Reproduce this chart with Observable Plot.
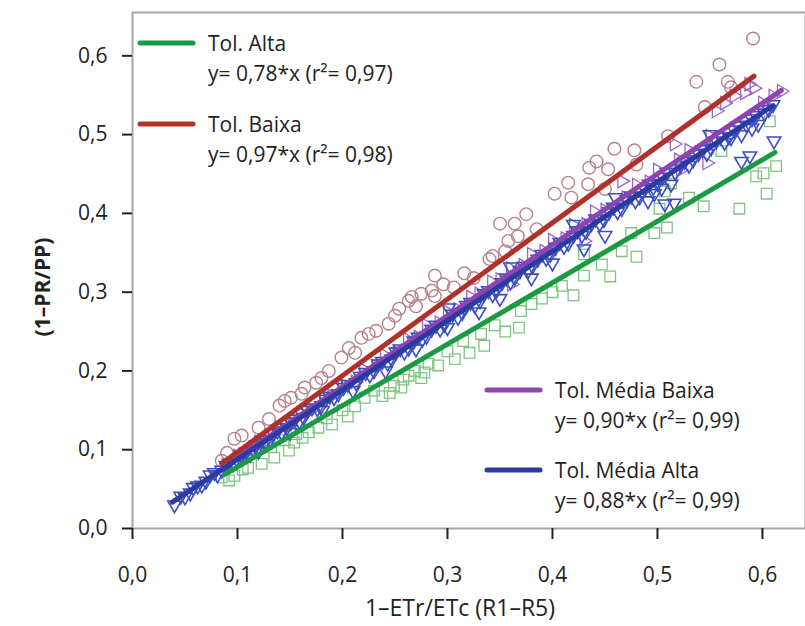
<!DOCTYPE html>
<html><head><meta charset="utf-8">
<script src="https://cdn.jsdelivr.net/npm/d3@7"></script>
<script src="https://cdn.jsdelivr.net/npm/@observablehq/plot@0.6"></script>
<style>
body{margin:0;background:#fff}
#chart{position:relative;width:805px;height:626px}
</style>
</head><body><div id="chart"></div>
<script>
// ---- Data ----
const xTicks = [0, 0.1, 0.2, 0.3, 0.4, 0.5, 0.6];
const yTicks = [0, 0.1, 0.2, 0.3, 0.4, 0.5, 0.6];
const xTitle = "1–ETr/ETc (R1–R5)";
const yTitle = "(1–PR/PP)";

const seriesNames = ["Tol. Alta", "Tol. Baixa", "Tol. Média Baixa", "Tol. Média Alta"];
const slopes = [0.78, 0.97, 0.90, 0.88];
const r2 = ["0,97", "0,98", "0,99", "0,99"];
const fitStartX = [0.088, 0.085, 0.100, 0.038];
const fitEndX = [0.612, 0.592, 0.618, 0.610];

// Tol. Baixa (open circles)
const pointsBaixa = [[0.085,0.086],[0.090,0.096],[0.097,0.114],[0.104,0.118],[0.120,0.128],[0.130,0.139],[0.140,0.156],[0.145,0.162],[0.151,0.166],[0.161,0.171],[0.164,0.179],[0.175,0.185],[0.180,0.191],[0.187,0.200],[0.199,0.217],[0.206,0.229],[0.212,0.223],[0.218,0.242],[0.225,0.247],[0.232,0.251],[0.244,0.260],[0.250,0.270],[0.254,0.279],[0.263,0.289],[0.266,0.294],[0.270,0.282],[0.275,0.298],[0.285,0.302],[0.288,0.295],[0.288,0.321],[0.296,0.310],[0.306,0.306],[0.316,0.324],[0.325,0.318],[0.340,0.342],[0.343,0.346],[0.350,0.387],[0.355,0.352],[0.358,0.365],[0.364,0.387],[0.367,0.371],[0.375,0.399],[0.385,0.380],[0.402,0.425],[0.415,0.439],[0.418,0.420],[0.434,0.437],[0.435,0.458],[0.442,0.466],[0.450,0.431],[0.453,0.456],[0.459,0.482],[0.478,0.480],[0.480,0.462],[0.510,0.498],[0.537,0.567],[0.545,0.535],[0.559,0.589],[0.567,0.567],[0.570,0.560],[0.591,0.622]];

// Tol. Alta (open squares)
const pointsAlta = [[0.085,0.065],[0.092,0.061],[0.097,0.067],[0.105,0.075],[0.110,0.077],[0.123,0.082],[0.132,0.103],[0.135,0.090],[0.145,0.112],[0.149,0.099],[0.154,0.109],[0.156,0.120],[0.162,0.115],[0.168,0.122],[0.177,0.128],[0.185,0.140],[0.190,0.132],[0.200,0.150],[0.205,0.142],[0.212,0.155],[0.221,0.166],[0.230,0.175],[0.238,0.168],[0.245,0.172],[0.249,0.181],[0.256,0.179],[0.258,0.189],[0.263,0.194],[0.269,0.200],[0.275,0.191],[0.278,0.198],[0.282,0.209],[0.291,0.207],[0.300,0.225],[0.307,0.215],[0.315,0.238],[0.321,0.223],[0.332,0.247],[0.335,0.232],[0.345,0.258],[0.355,0.250],[0.368,0.255],[0.370,0.276],[0.380,0.285],[0.390,0.292],[0.400,0.300],[0.409,0.308],[0.420,0.296],[0.430,0.321],[0.430,0.348],[0.447,0.335],[0.455,0.320],[0.466,0.352],[0.475,0.375],[0.480,0.345],[0.497,0.375],[0.502,0.406],[0.507,0.428],[0.509,0.382],[0.513,0.438],[0.530,0.420],[0.544,0.409],[0.561,0.479],[0.578,0.406],[0.594,0.447],[0.601,0.451],[0.604,0.425],[0.607,0.517],[0.613,0.460]];

// Tol. Média Baixa (open triangles)
const pointsMediaBaixa = [[0.100,0.092],[0.110,0.097],[0.120,0.110],[0.128,0.112],[0.140,0.128],[0.150,0.131],[0.160,0.146],[0.170,0.150],[0.182,0.166],[0.190,0.168],[0.200,0.183],[0.212,0.186],[0.220,0.202],[0.232,0.206],[0.240,0.220],[0.252,0.224],[0.262,0.240],[0.272,0.243],[0.280,0.258],[0.292,0.261],[0.300,0.275],[0.310,0.278],[0.322,0.294],[0.330,0.298],[0.342,0.313],[0.350,0.316],[0.360,0.330],[0.361,0.310],[0.372,0.334],[0.380,0.348],[0.392,0.352],[0.400,0.366],[0.412,0.368],[0.420,0.385],[0.430,0.365],[0.432,0.386],[0.440,0.402],[0.450,0.404],[0.466,0.441],[0.470,0.420],[0.480,0.436],[0.492,0.440],[0.500,0.455],[0.516,0.488],[0.520,0.468],[0.522,0.455],[0.530,0.480],[0.547,0.464],[0.550,0.498],[0.556,0.530],[0.564,0.540],[0.573,0.549],[0.583,0.553],[0.587,0.564],[0.592,0.559],[0.600,0.540],[0.610,0.549],[0.618,0.555]];

// Tol. Média Alta (open inverted triangles)
const pointsMediaAlta = [[0.040,0.030],[0.046,0.041],[0.050,0.040],[0.055,0.045],[0.058,0.052],[0.062,0.054],[0.066,0.055],[0.070,0.060],[0.074,0.068],[0.078,0.071],[0.081,0.068],[0.085,0.074],[0.089,0.080],[0.092,0.083],[0.096,0.082],[0.100,0.086],[0.104,0.093],[0.108,0.097],[0.112,0.094],[0.115,0.100],[0.118,0.106],[0.122,0.109],[0.120,0.098],[0.126,0.108],[0.131,0.113],[0.134,0.121],[0.138,0.124],[0.142,0.122],[0.147,0.128],[0.150,0.122],[0.151,0.135],[0.155,0.139],[0.159,0.136],[0.163,0.141],[0.167,0.150],[0.171,0.153],[0.176,0.152],[0.180,0.156],[0.181,0.150],[0.184,0.164],[0.188,0.168],[0.192,0.166],[0.196,0.171],[0.201,0.179],[0.205,0.183],[0.210,0.175],[0.213,0.185],[0.217,0.193],[0.222,0.198],[0.226,0.195],[0.230,0.200],[0.234,0.209],[0.238,0.212],[0.241,0.200],[0.243,0.210],[0.247,0.215],[0.251,0.224],[0.255,0.228],[0.259,0.224],[0.263,0.229],[0.268,0.238],[0.270,0.228],[0.272,0.243],[0.276,0.240],[0.280,0.244],[0.285,0.253],[0.289,0.258],[0.293,0.253],[0.297,0.259],[0.300,0.255],[0.301,0.280],[0.305,0.272],[0.310,0.268],[0.314,0.274],[0.318,0.283],[0.322,0.287],[0.326,0.283],[0.330,0.275],[0.331,0.289],[0.335,0.298],[0.339,0.302],[0.343,0.297],[0.347,0.303],[0.350,0.292],[0.352,0.312],[0.356,0.318],[0.360,0.332],[0.360,0.313],[0.364,0.318],[0.369,0.327],[0.373,0.333],[0.377,0.328],[0.380,0.318],[0.381,0.333],[0.386,0.342],[0.390,0.348],[0.394,0.343],[0.398,0.348],[0.400,0.337],[0.403,0.357],[0.407,0.363],[0.411,0.358],[0.415,0.362],[0.420,0.386],[0.420,0.372],[0.424,0.378],[0.428,0.372],[0.430,0.355],[0.432,0.377],[0.437,0.387],[0.441,0.393],[0.445,0.387],[0.449,0.392],[0.450,0.372],[0.454,0.402],[0.458,0.408],[0.460,0.420],[0.462,0.402],[0.466,0.406],[0.471,0.417],[0.475,0.422],[0.479,0.416],[0.483,0.421],[0.488,0.431],[0.491,0.416],[0.492,0.437],[0.496,0.433],[0.497,0.425],[0.500,0.438],[0.504,0.432],[0.505,0.446],[0.507,0.412],[0.509,0.452],[0.513,0.437],[0.516,0.413],[0.517,0.452],[0.522,0.461],[0.526,0.466],[0.530,0.461],[0.534,0.468],[0.539,0.476],[0.543,0.481],[0.547,0.476],[0.550,0.500],[0.551,0.483],[0.556,0.492],[0.560,0.497],[0.564,0.490],[0.568,0.497],[0.570,0.496],[0.573,0.506],[0.577,0.511],[0.580,0.466],[0.580,0.500],[0.585,0.512],[0.588,0.473],[0.590,0.508],[0.590,0.520],[0.594,0.524],[0.596,0.513],[0.602,0.527],[0.606,0.532],[0.610,0.538],[0.611,0.492]];

// ---- Styles ----
const lineColors = ["#1a9a42", "#b0302a", "#8c45b0", "#2b3aa0"];
const pointColors = ["#80c484", "#b8808a", "#9a66c4", "#3a4ec0"];
const FONT = "'Open Sans', 'Noto Sans', sans-serif";
const fmt = d => d.toFixed(1).replace(".", ",");

const fits = seriesNames.map((name, i) => [
  {x: fitStartX[i], y: slopes[i] * fitStartX[i], s: name},
  {x: fitEndX[i], y: slopes[i] * fitEndX[i], s: name}
]);

const toObj = arr => arr.map(([x, y]) => ({x, y}));

const plot = Plot.plot({
  width: 805,
  height: 626,
  marginLeft: 132,
  marginTop: 12,
  marginRight: 0,
  marginBottom: 98,
  style: {fontFamily: FONT, fontSize: "21px", color: "#222", background: "#fff", overflow: "visible"},
  x: {domain: [0, 0.641], label: null},
  y: {domain: [0, 0.655], label: null},
  marks: [
    Plot.frame({stroke: "#a6a6a6", strokeWidth: 2}),
    Plot.dot(toObj(pointsAlta), {x: "x", y: "y", symbol: "square", r: 6, stroke: pointColors[0], strokeWidth: 1.3, fill: "none"}),
    Plot.dot(toObj(pointsBaixa), {x: "x", y: "y", symbol: "circle", r: 6.3, stroke: pointColors[1], strokeWidth: 1.4, fill: "none"}),
    Plot.dot(toObj(pointsMediaBaixa), {x: "x", y: "y", symbol: "triangle", rotate: 90, r: 5, stroke: pointColors[2], strokeWidth: 1.3, fill: "none"}),
    Plot.dot(toObj(pointsMediaAlta), {x: "x", y: "y", symbol: "triangle", rotate: 180, r: 5, stroke: pointColors[3], strokeWidth: 1.6, fill: "none"}),
    ...fits.map((f, i) => Plot.line(f, {x: "x", y: "y", stroke: lineColors[i], strokeWidth: 5, strokeLinecap: "round"})),
    Plot.axisX(xTicks, {tickSize: 11, tickPadding: 28, tickFormat: fmt, stroke: "#222", strokeWidth: 2, fontSize: 21, label: null}),
    Plot.axisY(yTicks, {tickSize: 10, tickPadding: 15, tickFormat: fmt, stroke: "#222", strokeWidth: 2, fontSize: 21, label: null})
  ]
});

document.getElementById("chart").appendChild(plot);

// ---- Axis titles and in-plot legend ----
const svg = d3.select(plot);
svg.append("text").attr("x", 460).attr("y", 607).attr("text-anchor", "middle")
  .attr("dominant-baseline", "central").attr("font-family", FONT).attr("font-size", 23).attr("fill", "#222").text(xTitle);
svg.append("text").attr("transform", "translate(42,287) rotate(-90)").attr("text-anchor", "middle")
  .attr("dominant-baseline", "central").attr("font-family", FONT).attr("font-size", 21).attr("font-weight", "bold").attr("fill", "#222").text(yTitle);

const legendPos = [[140, 43], [140, 124], [487, 390], [487, 470]];
seriesNames.forEach((name, i) => {
  const [lx, ly] = legendPos[i];
  const g = svg.append("g").attr("text-anchor", "start");
  g.append("line").attr("x1", lx).attr("x2", lx + 53).attr("y1", ly).attr("y2", ly)
    .attr("stroke", lineColors[i]).attr("stroke-width", 5).attr("stroke-linecap", "round");
  g.append("text").attr("x", lx + 68).attr("y", ly).attr("text-anchor", "start").attr("dominant-baseline", "central")
    .attr("font-family", FONT).attr("font-size", 21).attr("fill", "#222").text(name);
  g.append("text").attr("x", lx + 68).attr("y", ly + 30).attr("text-anchor", "start").attr("dominant-baseline", "central")
    .attr("font-family", FONT).attr("font-size", 21).attr("fill", "#222")
    .text(`y= ${slopes[i].toFixed(2).replace(".", ",")}*x (r²= ${r2[i]})`);
});
</script>
</body></html>
